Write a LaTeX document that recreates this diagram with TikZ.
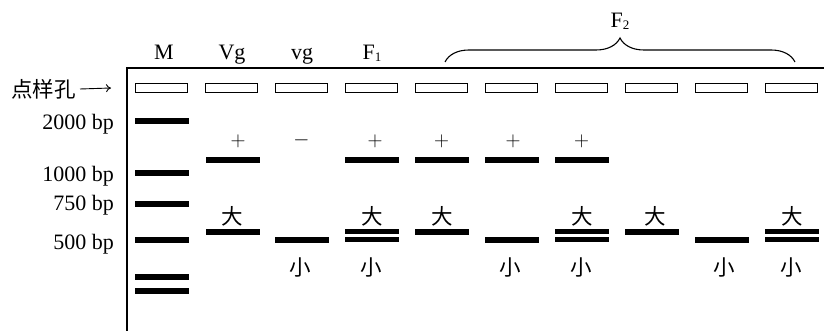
\documentclass[tikz,border=0pt]{standalone}
\usepackage{fontspec}
\newfontfamily\cjk{Noto Sans CJK SC}
\newfontfamily\lsf{Liberation Serif}
\usetikzlibrary{decorations.pathreplacing,arrows.meta}
\begin{document}
\begin{tikzpicture}[x=1pt,y=-1pt,
  well/.style={draw, line width=1.4pt, minimum width=51.6pt, minimum height=8.6pt, inner sep=0pt},
  band/.style={fill=black, minimum width=54pt, minimum height=6pt, inner sep=0pt},
  dband/.style={fill=black, minimum width=54pt, minimum height=5pt, inner sep=0pt},
  lbl/.style={font=\lsf\fontsize{22}{24}\selectfont, inner sep=0pt},
  sgn/.style={font=\fontsize{22}{24}\selectfont, inner sep=0pt},
  ch/.style={font=\cjk\fontsize{21.5}{24}\selectfont, inner sep=0pt},
  gel/.style={line width=1.5pt},
]
\useasboundingbox (0,0) rectangle (824,331);
% gel outline
\coordinate (gbl) at (127,331);
\coordinate (gtl) at (127,68);
\coordinate (gtr) at (824,68);
\draw[gel] (gbl) -- (gtl) -- (gtr);
% wells
\foreach \i in {0,...,9}{
  \node[well] (w\i) at ({161.5+70*\i},88) {};
}
% loading-well label
\node[ch, anchor=east] (dyk) at (76,89) {点样孔};
\coordinate (arr) at (111,88);
\draw[line width=0.9pt, -{Computer Modern Rightarrow[length=5pt,width=8pt]}] ([xshift=4pt]dyk.east) -- (arr);
% lane labels
\node[lbl, anchor=base] (lM) at (164,60) {M};
\node[lbl, anchor=base] (lVg) at (232,60) {Vg};
\node[lbl, anchor=base] (lvg) at (302,60) {vg};
\node[lbl, anchor=base] (lF1) at (372,60) {F\raisebox{-2pt}{\fontsize{13}{14}\selectfont 1}};
% F2 brace
\coordinate (b1) at (445,62);
\coordinate (b2) at (795,62);
\draw[line width=1.1pt, decorate, decoration={brace, amplitude=24pt}] (b1) -- (b2);
\node[lbl, anchor=base] (lF2) at (620,28) {F\raisebox{-2pt}{\fontsize{13}{14}\selectfont 2}};
% marker sizes
\node[lbl, anchor=base east] (s2000) at (114,130) {2000 bp};
\node[lbl, anchor=base east] (s1000) at (114,182) {1000 bp};
\node[lbl, anchor=base east] (s750) at (114,211) {750 bp};
\node[lbl, anchor=base east] (s500) at (114,249) {500 bp};
% marker bands
\node[band] (m1) at (161.5,121) {};
\node[band] (m2) at (161.5,173) {};
\node[band] (m3) at (161.5,204) {};
\node[band] (m4) at (161.5,240) {};
\node[band] (m5) at (161.5,276.5) {};
\node[band] (m6) at (161.5,291) {};
% Vg
\node[sgn] (p1) at (238,141) {$+$};
\node[band] (vg1) at (232.5,160) {};
\node[ch] (d1) at (232.5,216) {大};
\node[band] (vg2) at (232.5,231.5) {};
% vg
\node[sgn] (n2) at (301.5,140) {$-$};
\node[band] (rg) at (302,239.5) {};
\node[ch] (x2) at (300.5,267) {小};
% F1 and F2 lanes with +
\foreach \k/\px in {3/375,4/441.5,5/513,6/581.5}{
  \node[sgn] (p\k) at (\px,141) {$+$};
  \node[band] (u\k) at ({161.5+70*\k},160) {};
}
% big-only lanes
\foreach \k/\dx in {4/442,7/655}{
  \node[ch] (d\k) at (\dx,216) {大};
  \node[band] (b\k) at ({161.5+70*\k},231.5) {};
}
% small-only lanes
\foreach \k/\sx in {5/510,8/724}{
  \node[band] (s\k) at ({161.5+70*\k},239.5) {};
  \node[ch] (x\k) at (\sx,267.5) {小};
}
% heterozygous lanes
\foreach \k in {3,6,9}{
  \node[ch] (d\k) at ({161.5+70*\k+1},216) {大};
  \node[dband] (ha\k) at ({161.5+70*\k},231.5) {};
  \node[dband] (hb\k) at ({161.5+70*\k},239.5) {};
  \node[ch] (x\k) at ({161.5+70*\k},267.5) {小};
}
\end{tikzpicture}
\end{document}
